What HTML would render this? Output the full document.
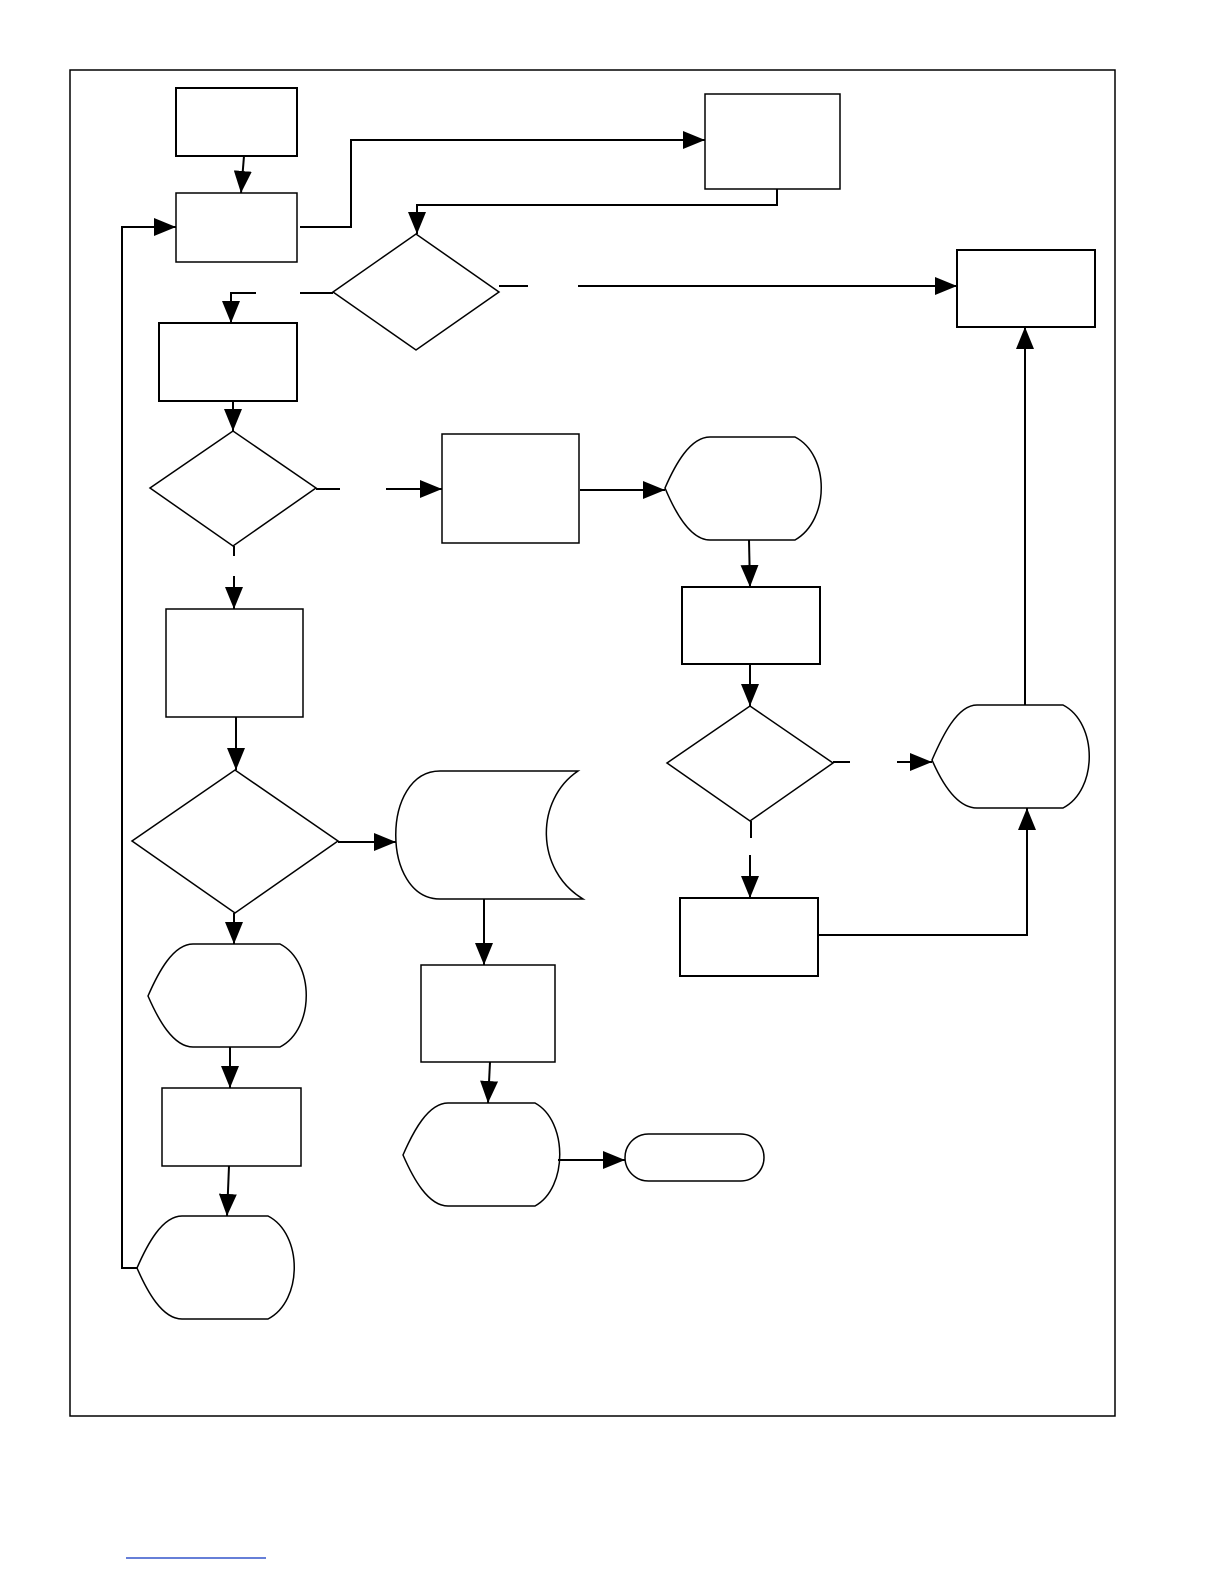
<!DOCTYPE html>
<html><head><meta charset="utf-8"><style>html,body{margin:0;padding:0;background:#fff;overflow:hidden;width:1224px;height:1584px}svg{display:block}</style></head>
<body>
<svg width="1224" height="1584" viewBox="0 0 1224 1584" xmlns="http://www.w3.org/2000/svg">
<defs>
<marker id="a" markerUnits="userSpaceOnUse" markerWidth="24" markerHeight="18" refX="22" refY="9" orient="auto">
<path d="M0,0 L22,9 L0,18 Z" fill="#000"/>
</marker>
</defs>
<g fill="none" stroke="#000" stroke-width="1.5">
<rect x="70" y="70" width="1045" height="1346"/>
<rect x="176" y="88" width="121" height="68" stroke-width="2"/>
<rect x="176" y="193" width="121" height="69"/>
<rect x="705" y="94" width="135" height="95"/>
<path d="M333,292 L416,234 L499,292 L416,350 Z"/>
<rect x="957" y="250" width="138" height="77" stroke-width="2"/>
<rect x="159" y="323" width="138" height="78" stroke-width="2"/>
<path d="M150,488 L233,431 L316,488 L233,546 Z"/>
<rect x="442" y="434" width="137" height="109"/>
<path d="M665,488 C675,465 690,437 710,437 L795,437 C830,455 830,520 795,540 L710,540 C690,540 675,512 665,488 Z"/>
<rect x="682" y="587" width="138" height="77" stroke-width="2"/>
<path d="M667,763 L750,706 L833,763 L750,821 Z"/>
<path d="M932,760 C942,737 957,705 977,705 L1063,705 C1098,723 1098,790 1063,808 L977,808 C957,808 942,783 932,760 Z"/>
<rect x="166" y="609" width="137" height="108"/>
<path d="M132,841 L235,770 L338,841 L235,913 Z"/>
<path d="M440,771 L578,771 C535,800 535,870 583,899 L440,899 C381,899 381,771 440,771 Z"/>
<rect x="680" y="898" width="138" height="78" stroke-width="2"/>
<path d="M148,996 C158,973 173,944 193,944 L280,944 C315,962 315,1029 280,1047 L193,1047 C173,1047 158,1019 148,996 Z"/>
<rect x="421" y="965" width="134" height="97"/>
<rect x="162" y="1088" width="139" height="78"/>
<path d="M403,1155 C413,1132 428,1103 448,1103 L535,1103 C568,1121 568,1188 535,1206 L448,1206 C428,1206 413,1178 403,1155 Z"/>
<rect x="625" y="1134" width="139" height="47" rx="23.5"/>
<path d="M137,1268 C147,1245 162,1216 182,1216 L268,1216 C303,1234 303,1301 268,1319 L182,1319 C162,1319 147,1291 137,1268 Z"/>
</g>
<g fill="none" stroke="#000" stroke-width="2">
<path d="M244,156 L241,193" marker-end="url(#a)"/>
<path d="M300,227 L351,227 L351,140 L705,140" marker-end="url(#a)"/>
<path d="M777,189 L777,205 L417,205 L417,234" marker-end="url(#a)"/>
<path d="M333,293 L300,293"/>
<path d="M256,293 L231,293 L231,323" marker-end="url(#a)"/>
<path d="M499,286 L528,286"/>
<path d="M578,286 L957,286" marker-end="url(#a)"/>
<path d="M233,401 L233,431" marker-end="url(#a)"/>
<path d="M316,489 L340,489"/>
<path d="M386,489 L442,489" marker-end="url(#a)"/>
<path d="M234,546 L234,556"/>
<path d="M234,576 L234,609" marker-end="url(#a)"/>
<path d="M580,490 L665,490" marker-end="url(#a)"/>
<path d="M749,540 L750,587" marker-end="url(#a)"/>
<path d="M750,664 L750,706" marker-end="url(#a)"/>
<path d="M833,762 L850,762"/>
<path d="M897,762 L932,762" marker-end="url(#a)"/>
<path d="M751,821 L751,838"/>
<path d="M750,855 L750,898" marker-end="url(#a)"/>
<path d="M818,935 L1027,935 L1027,808" marker-end="url(#a)"/>
<path d="M1025,705 L1025,327" marker-end="url(#a)"/>
<path d="M236,717 L236,770" marker-end="url(#a)"/>
<path d="M338,842 L396,842" marker-end="url(#a)"/>
<path d="M234,913 L234,944" marker-end="url(#a)"/>
<path d="M484,899 L484,965" marker-end="url(#a)"/>
<path d="M230,1047 L230,1088" marker-end="url(#a)"/>
<path d="M490,1062 L488,1103" marker-end="url(#a)"/>
<path d="M558,1160 L625,1160" marker-end="url(#a)"/>
<path d="M229,1166 L227,1216" marker-end="url(#a)"/>
<path d="M137,1268 L122,1268 L122,227 L176,227" marker-end="url(#a)"/>
</g>
<line x1="126" y1="1558" x2="266" y2="1558" stroke="#3355cc" stroke-width="1.5"/>
</svg>
</body></html>
